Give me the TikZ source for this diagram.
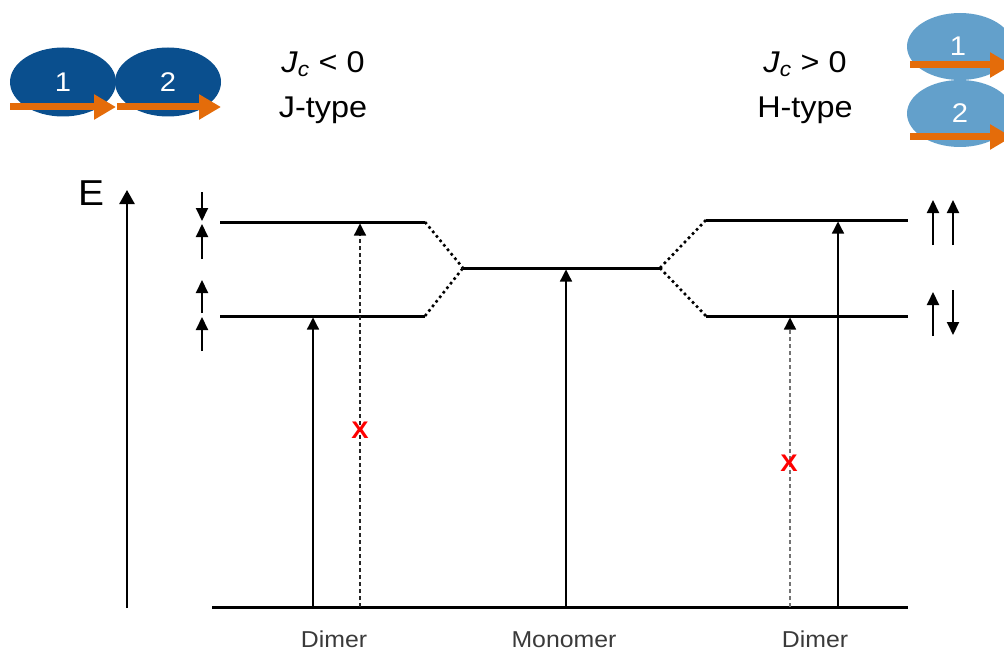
\documentclass[tikz,border=0pt]{standalone}
\usepackage{fontspec}
\setmainfont[FakeStretch=1.08]{Liberation Sans}
\usetikzlibrary{arrows.meta,shapes.geometric}

\definecolor{darkmol}{HTML}{0A4F8E}
\definecolor{lightmol}{HTML}{63A0CB}
\definecolor{dipolec}{HTML}{E46C0A}
\definecolor{labelgray}{HTML}{3A3A3A}

\begin{document}
\begin{tikzpicture}[x=1pt,y=-1pt,
  level/.style={line width=3pt},
  split/.style={line width=2.6pt, dash pattern=on 2.6pt off 3.2pt},
  absorb/.style={line width=1.3pt, -{Triangle[length=12pt,width=12pt,color=black]}},
  forbidden/.style={absorb, dash pattern=on 4pt off 3pt},
  spin/.style={line width=2pt, -{Triangle[length=13pt,width=12pt]}},
  axis/.style={line width=2.5pt, -{Triangle[length=14pt,width=15pt]}},
  dipole/.style={draw=dipolec, line width=7pt, -{Triangle[length=22pt,width=24pt]}},
  mol/.style={ellipse, inner sep=0pt, minimum width=106pt, minimum height=69pt,
              text=white, font=\fontsize{27}{29}\selectfont},
  head/.style={font=\fontsize{30}{34}\selectfont, anchor=base},
  caption/.style={font=\fontsize{23}{26}\selectfont, text=labelgray, anchor=base},
  nogo/.style={text=red, font=\bfseries\fontsize{24}{26}\selectfont}
]
\useasboundingbox (0,0) rectangle (1004,650);
\clip (0,0) rectangle (1004,650);

% --- J-aggregate: head-to-tail molecules ---
\node[mol, fill=darkmol] (j1) at (63,82) {1};
\node[mol, fill=darkmol] (j2) at (168,82) {2};
\coordinate (j1a) at (10,107);  \coordinate (j1b) at (116,107);
\coordinate (j2a) at (117,107); \coordinate (j2b) at (221,107);
\draw[dipole] (j1a) -- (j1b);
\draw[dipole] (j2a) -- (j2b);

% --- H-aggregate: stacked molecules ---
\node[mol, fill=lightmol, minimum height=67pt] (h1) at (960,46.5) {};
\node[mol, fill=lightmol, minimum height=67pt] (h2) at (960,113.5) {};
\node[text=white, font=\fontsize{27}{29}\selectfont] (h1t) at (958,46) {1};
\node[text=white, font=\fontsize{27}{29}\selectfont] (h2t) at (960,113) {2};
\coordinate (h1a) at (910,65);  \coordinate (h1b) at (1012,65);
\coordinate (h2a) at (910,137); \coordinate (h2b) at (1012,137);
\draw[dipole] (h1a) -- (h1b);
\draw[dipole] (h2a) -- (h2b);

% --- headings ---
\node[head] (jc) at (323,73) {\textit{J}\textsubscript{\textit{c}} < 0};
\node[head] (jt) at (323,118) {J-type};
\node[head] (hc) at (805,73) {\textit{J}\textsubscript{\textit{c}} > 0};
\node[head] (ht) at (805,118) {H-type};

% --- energy axis ---
\coordinate (eb) at (127,608);
\coordinate (et) at (127,190);
\draw[axis] (eb) -- (et);
\node[font=\fontsize{36}{40}\selectfont, anchor=base] (E) at (91,205) {E};

% --- ground state ---
\coordinate (g0) at (212,607);
\coordinate (g1) at (908,607);
\draw[level] (g0) -- (g1);

% --- energy levels ---
\coordinate (ju0) at (220,222); \coordinate (ju1) at (425,222);
\coordinate (jl0) at (220,316); \coordinate (jl1) at (425,316);
\coordinate (m0) at (463,268);  \coordinate (m1) at (660,268);
\coordinate (hu0) at (706,220); \coordinate (hu1) at (908,220);
\coordinate (hl0) at (706,316); \coordinate (hl1) at (908,316);
\draw[level] (ju0) -- (ju1);
\draw[level] (jl0) -- (jl1);
\draw[level] (m0) -- (m1);
\draw[level] (hu0) -- (hu1);
\draw[level] (hl0) -- (hl1);
\draw[split] (ju1) -- (m0);
\draw[split] (jl1) -- (m0);
\draw[split] (m1) -- (hu0);
\draw[split] (m1) -- (hl0);

% --- transitions ---
\coordinate (t1) at (313,607); \coordinate (t1e) at (313,317.5);
\coordinate (t2) at (360,607); \coordinate (t2e) at (360,223.5);
\coordinate (t3) at (566,607); \coordinate (t3e) at (566,269.5);
\coordinate (t4) at (790,607); \coordinate (t4e) at (790,317.5);
\coordinate (t5) at (838,607); \coordinate (t5e) at (838,221.5);
\draw[absorb] (t1) -- (t1e);
\draw[forbidden, draw=black!85] (t2) -- (t2e);
\draw[absorb] (t3) -- (t3e);
\draw[forbidden, draw=black!55] (t4) -- (t4e);
\draw[absorb] (t5) -- (t5e);
\node[nogo] (x1) at (360,430) {X};
\node[nogo] (x2) at (789,463) {X};

% --- dipole orientation arrows, J side ---
\coordinate (sa0) at (202,192); \coordinate (sa1) at (202,221);
\coordinate (sb0) at (202,259); \coordinate (sb1) at (202,224);
\coordinate (sc0) at (202,313); \coordinate (sc1) at (202,280);
\coordinate (sd0) at (202,351); \coordinate (sd1) at (202,317);
\draw[spin] (sa0) -- (sa1);
\draw[spin] (sb0) -- (sb1);
\draw[spin] (sc0) -- (sc1);
\draw[spin] (sd0) -- (sd1);

% --- dipole orientation arrows, H side ---
\coordinate (ra0) at (933,245); \coordinate (ra1) at (933,200);
\coordinate (rb0) at (953,245); \coordinate (rb1) at (953,200);
\coordinate (rc0) at (933,336); \coordinate (rc1) at (933,292);
\coordinate (rd0) at (953,290); \coordinate (rd1) at (953,335);
\draw[spin] (ra0) -- (ra1);
\draw[spin] (rb0) -- (rb1);
\draw[spin] (rc0) -- (rc1);
\draw[spin] (rd0) -- (rd1);

% --- captions ---
\node[caption] (d1) at (334,647) {Dimer};
\node[caption] (mo) at (564,647) {Monomer};
\node[caption] (d2) at (815,647) {Dimer};
\end{tikzpicture}
\end{document}
